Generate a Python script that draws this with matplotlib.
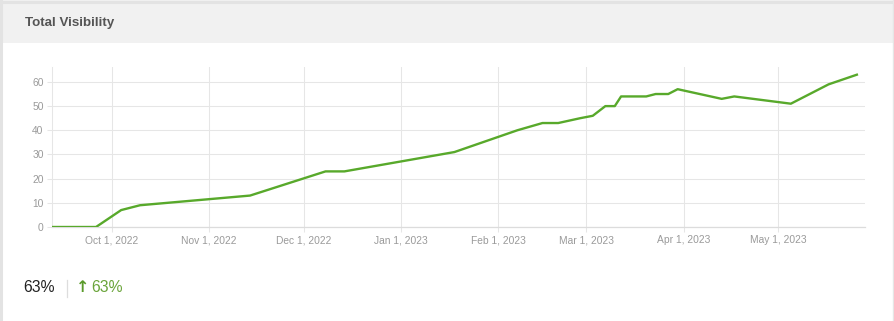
import matplotlib
matplotlib.use("Agg")
import matplotlib.pyplot as plt
import matplotlib.dates as mdates
from matplotlib.patches import Rectangle
import numpy as np

plt.rcParams['font.family'] = ['Liberation Sans', 'DejaVu Sans']

# Visibility data
dates = ['2022-09-12', '2022-09-26', '2022-10-04', '2022-10-10', '2022-11-14',
         '2022-12-08', '2022-12-14', '2023-01-18', '2023-02-07', '2023-02-15',
         '2023-02-20', '2023-02-27', '2023-03-03', '2023-03-07', '2023-03-10',
         '2023-03-12', '2023-03-20', '2023-03-23', '2023-03-27', '2023-03-30',
         '2023-04-13', '2023-04-17', '2023-05-05', '2023-05-17', '2023-05-26']
values = [0, 0, 7, 9, 13, 23, 23, 31, 40, 43, 43, 45, 46, 50, 50,
          54, 54, 55, 55, 57, 53, 54, 51, 59, 63]
y_ticks = [0, 10, 20, 30, 40, 50, 60]
title = "Total Visibility"
current = "63%"
change = "63%"

x = np.array(dates, dtype='datetime64[D]')

W, H = 894, 321
fig = plt.figure(figsize=(W / 100, H / 100), dpi=100)
fig.patch.set_facecolor('white')

# card border and header band
fig.patches.append(Rectangle((0, 0), 1, 1, transform=fig.transFigure,
                             facecolor='white', edgecolor='none', zorder=-3))
fig.patches.append(Rectangle((0, 1 - 43 / H), 1, 43 / H, transform=fig.transFigure,
                             facecolor='#f1f1f1', edgecolor='none', zorder=-2))
fig.add_artist(plt.Line2D([0, 1], [1 - 1.5 / H, 1 - 1.5 / H], transform=fig.transFigure,
                          color='#e3e3e3', lw=2.2))
fig.add_artist(plt.Line2D([1.2 / W, 1.2 / W], [0, 1], transform=fig.transFigure,
                          color='#e3e3e3', lw=2.2))
fig.add_artist(plt.Line2D([893 / W, 893 / W], [0, 1], transform=fig.transFigure,
                          color='#e6e6e6', lw=1.0))
fig.text(25 / W, 1 - 23 / H, title, fontsize=9.6, fontweight='bold',
         color='#555555', va='center', ha='left')

# plot area
ax = fig.add_axes([52 / W, 94 / H, (865 - 52) / W, (227 - 66.7) / H])
ax.plot(x, values, color='#58a92b', lw=1.7, solid_joinstyle='round', zorder=3)

ax.set_xlim(np.datetime64('2022-09-12'), np.datetime64('2023-05-28') + np.timedelta64(14, 'h'))
ax.set_ylim(0, 66.3)
ax.set_yticks(y_ticks)
ax.xaxis.set_major_locator(mdates.MonthLocator(bymonthday=1))
ax.xaxis.set_major_formatter(mdates.DateFormatter('%b %-d, %Y'))

grid_c = '#e6e6e6'
ax.grid(True, color=grid_c, lw=0.75)
ax.set_axisbelow(True)
for s in ['top', 'right']:
    ax.spines[s].set_visible(False)
ax.spines['left'].set_color(grid_c)
ax.spines['bottom'].set_color('#dcdcdc')
ax.spines['left'].set_linewidth(0.75)
ax.spines['bottom'].set_linewidth(0.9)
ax.tick_params(axis='both', colors=grid_c, length=3.5, width=0.75,
               labelsize=7.4, labelcolor='#9a9a9a')
ax.tick_params(axis='x', pad=2.5)
ax.tick_params(axis='y', pad=2.5)

# summary line at the bottom
fig.text(23 / W, 1 - 288 / H, current, fontsize=11.3, color='#222222',
         va='center', ha='left')
fig.add_artist(plt.Line2D([67 / W, 67 / W], [1 - 280 / H, 1 - 297 / H],
                          transform=fig.transFigure, color='#dddddd', lw=0.9))
fig.text(76 / W, 1 - 288 / H, "\u2191", fontsize=11.5, color='#5a9a2a',
         fontweight='bold', va='center', ha='left', family=['DejaVu Sans'])
fig.text(91 / W, 1 - 288 / H, change, fontsize=11.3, color='#6aa43a',
         va='center', ha='left')

fig.savefig('out.png', dpi=100)
